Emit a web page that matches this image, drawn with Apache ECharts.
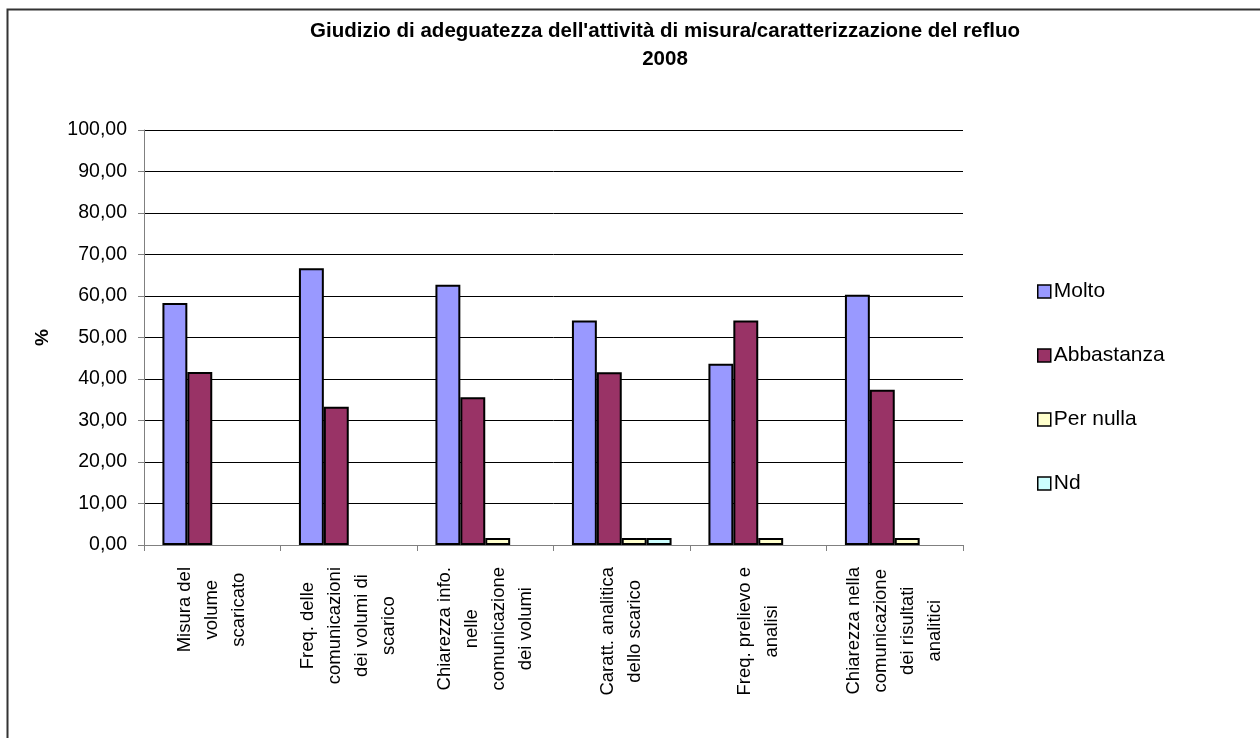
<!DOCTYPE html>
<html>
<head>
<meta charset="utf-8">
<script src="https://cdn.jsdelivr.net/npm/echarts@6/dist/echarts.min.js"></script>
<style>html,body{margin:0;padding:0;background:#fff;}#c{width:1260px;height:738px;}</style>
</head>
<body>
<div id="c"></div>
<script>
const categories = [
  "Misura del\nvolume\nscaricato",
  "Freq. delle\ncomunicazioni\ndei volumi di\nscarico",
  "Chiarezza info.\nnelle\ncomunicazione\ndei volumi",
  "Caratt. analitica\ndello scarico",
  "Freq. prelievo e\nanalisi",
  "Chiarezza nella\ncomunicazione\ndei risultati\nanalitici"
];
const seriesNames = ["Molto", "Abbastanza", "Per nulla", "Nd"];
const molto      = [58.33, 66.67, 62.71, 54.10, 43.70, 60.30];
const abbastanza = [41.67, 33.33, 35.59, 41.60, 54.10, 37.40];
const perNulla   = [null, null, 1.69, 1.69, 1.69, 1.69];
const nd         = [null, null, null, 1.69, null, null];
const yTicks = [0, 10, 20, 30, 40, 50, 60, 70, 80, 90, 100];
const titleLines = ["Giudizio di adeguatezza dell'attività di misura/caratterizzazione del refluo", "2008"];
const yAxisTitle = "%";

const colors = ["#9999FF", "#993366", "#FFFFCC", "#CCFFFF"];
const values = [molto, abbastanza, perNulla, nd];
const FONT = "Liberation Sans, Arial, sans-serif";

const chart = echarts.init(document.getElementById('c'));
chart.setOption({
  backgroundColor: '#fff',
  animation: false,
  title: {
    text: titleLines.join('\n'),
    left: 660, top: 12, textAlign: 'center',
    textStyle: { fontFamily: FONT, fontWeight: 'bold', fontSize: 20.5, lineHeight: 28, color: '#000' }
  },
  graphic: [{
    type: 'rect', shape: { x: 7.5, y: 9.5, width: 1300, height: 800 },
    style: { fill: null, stroke: '#333', lineWidth: 2 }, silent: true, z: -1
  }],
  legend: {
    orient: 'vertical', left: 1037, top: 281, padding: 0,
    itemWidth: 13, itemHeight: 13, itemGap: 43,
    icon: 'rect',
    textStyle: { fontFamily: FONT, fontSize: 21, color: '#000', padding: [0, 0, 0, -2] },
    data: seriesNames.map((n, i) => ({ name: n, itemStyle: { color: colors[i], borderColor: '#000', borderWidth: 1.5 } }))
  },
  grid: { left: 144, right: 297, top: 130, bottom: 193, containLabel: false },
  xAxis: {
    type: 'category', data: categories,
    axisLine: { lineStyle: { color: '#808080', width: 1 } },
    axisTick: { show: true, length: 6, lineStyle: { color: '#808080' } },
    axisLabel: {
      rotate: 90, margin: 22, interval: 0,
      formatter: v => v.split('\n').map(l => '{c|' + l + '}').join('\n'),
      rich: { c: { align: 'center', fontFamily: FONT, fontSize: 18.5, lineHeight: 27, color: '#000' } }
    }
  },
  yAxis: {
    type: 'value', min: 0, max: 100, interval: 10,
    name: yAxisTitle, nameLocation: 'middle', nameGap: 92, nameRotate: 90,
    nameTextStyle: { fontFamily: FONT, fontWeight: 'bold', fontSize: 19, color: '#000' },
    axisLine: { show: true, lineStyle: { color: '#808080', width: 1 } },
    axisTick: { show: true, length: 6, inside: false, lineStyle: { color: '#808080' } },
    axisLabel: {
      margin: 17, fontFamily: FONT, fontSize: 19.5, color: '#000',
      formatter: v => yTicks.includes(v) ? v.toFixed(2).replace('.', ',') : ''
    },
    splitLine: { show: true, lineStyle: { color: '#000', width: 1 } }
  },
  series: seriesNames.map((n, i) => ({
    name: n, type: 'bar', data: values[i],
    barGap: 0, barCategoryGap: '27%',
    itemStyle: { color: colors[i], borderColor: '#000', borderWidth: 2 }
  }))
});
</script>
</body>
</html>
